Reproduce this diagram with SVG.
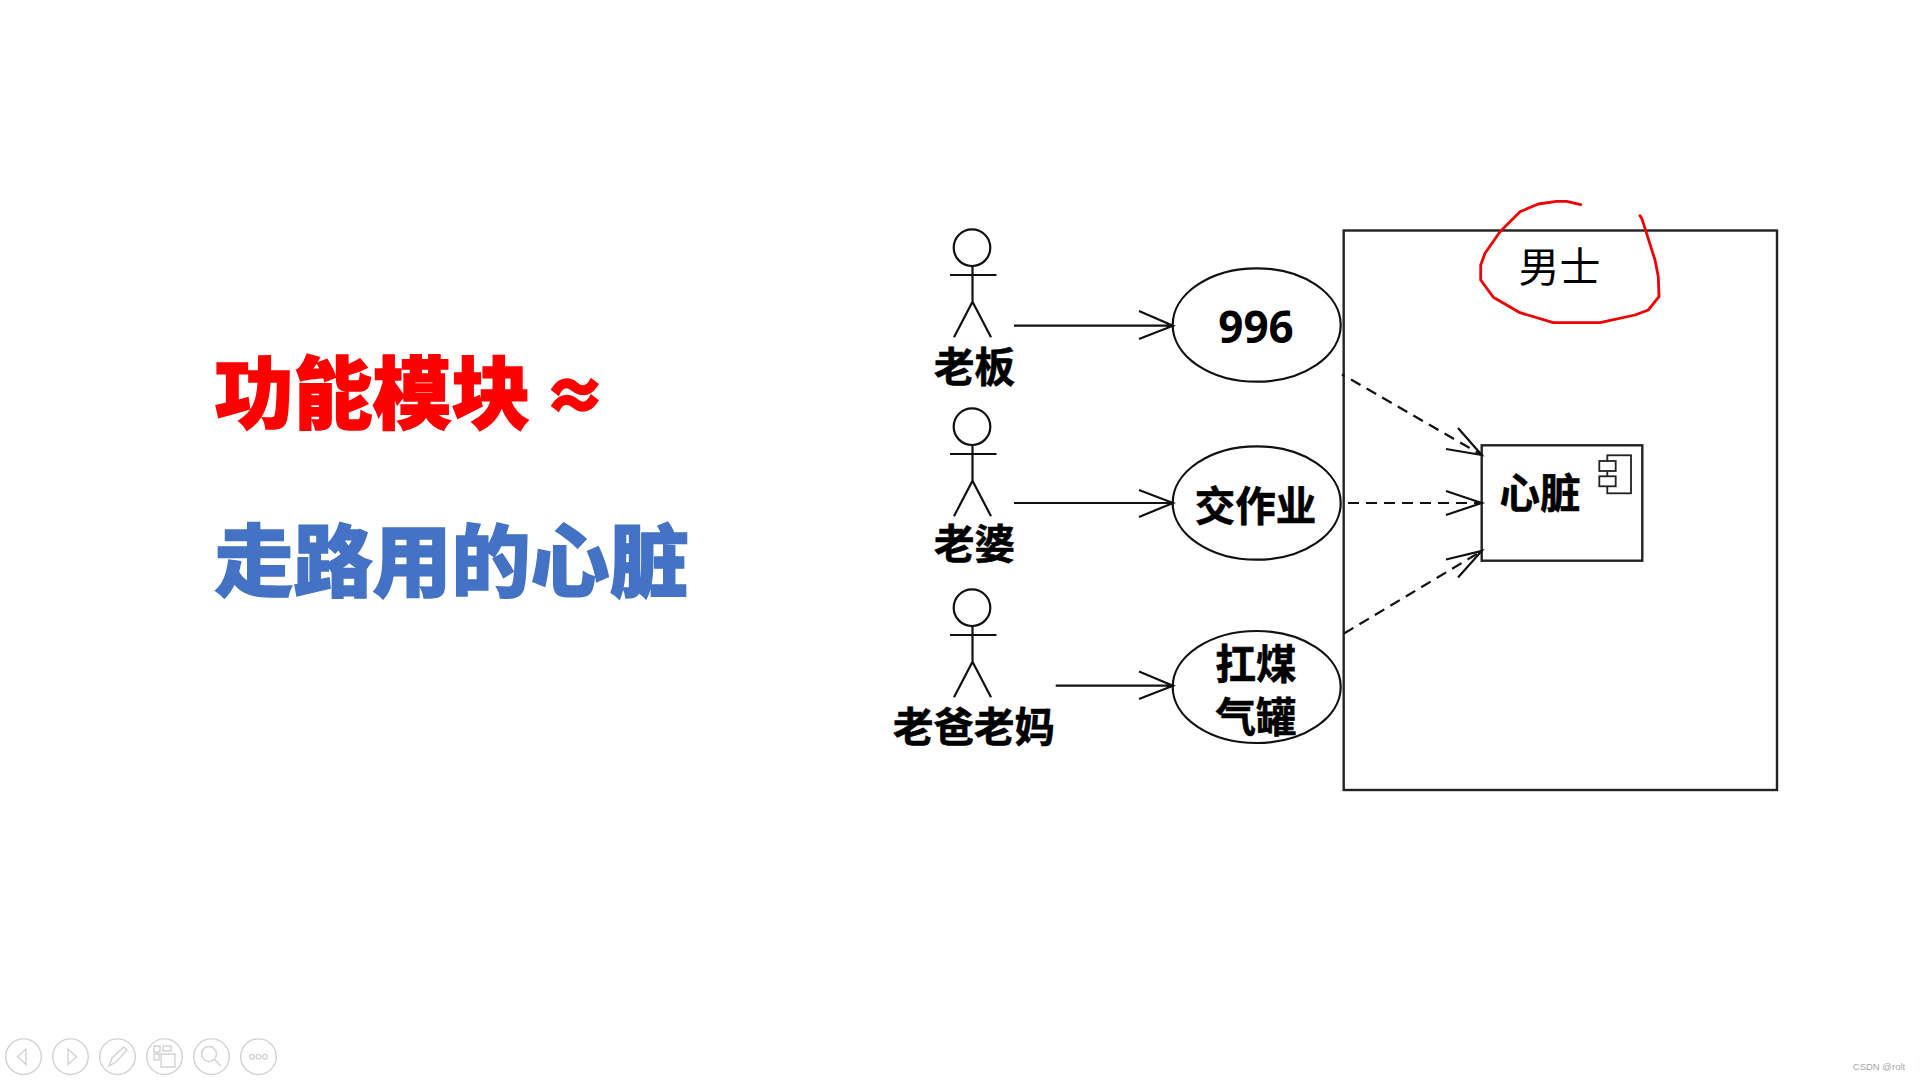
<svg xmlns="http://www.w3.org/2000/svg" width="1920" height="1080" viewBox="0 0 1920 1080">
<style>
text{font-family:"Noto Sans CJK SC","Noto Sans",sans-serif;text-anchor:middle;fill:#000}
.lab{font-size:40.5px;font-weight:700;stroke:#000;stroke-width:.6px}
.big{font-size:79px;font-weight:900;text-anchor:start;stroke-width:1.5px}
.s{fill:none;stroke:#111;stroke-width:2.2}
.box{fill:#fff;stroke:#222;stroke-width:2.4}
.uc{fill:#fff;stroke:#111;stroke-width:2.2}
.dash{fill:none;stroke:#111;stroke-width:2.2;stroke-dasharray:11 7}
.tb{fill:none;stroke:#d2d2d2;stroke-width:1.4}
</style>
<defs>
<g id="stick">
<circle cx="972" cy="0" r="18.3" class="s"/>
<path class="s" d="M972.5 18.5V54M950 27.3H996.5M972.5 54L954 89.5M972.5 54L991 89.5"/>
</g>
</defs>
<rect width="1920" height="1080" fill="#fff"/>
<g id="title">
<text class="big" x="214.5" y="423" style="fill:#ff0000;stroke:#ff0000">功能模块</text>
<text x="575" y="419" style="font-size:62px;font-weight:900;fill:#ff0000;stroke:#ff0000;stroke-width:2.5px">≈</text>
<text class="big" x="214.5" y="591" style="fill:#4472c4;stroke:#4472c4">走路用的心脏</text>
</g>
<g id="system"><rect class="box" x="1343.7" y="230.5" width="433.3" height="559.5"/></g>
<g id="system-label"><text x="1559.5" y="282" style="font-size:41px">男士</text></g>
<g id="actor-boss"><use href="#stick" y="247.7"/><text class="lab" x="974.5" y="382">老板</text></g>
<g id="actor-wife"><use href="#stick" y="426.7"/><text class="lab" x="974.5" y="559">老婆</text></g>
<g id="actor-parents"><use href="#stick" y="607.7"/><text class="lab" x="974" y="742">老爸老妈</text></g>
<g id="uc-996"><ellipse class="uc" cx="1256.7" cy="325" rx="84" ry="56.7"/><text x="1256" y="343" style="font-size:44px;font-weight:700;font-family:'Open Sans','Noto Sans',sans-serif">996</text></g>
<g id="uc-homework"><ellipse class="uc" cx="1256.7" cy="503" rx="84" ry="56.7"/><text class="lab" x="1255.5" y="521">交作业</text></g>
<g id="uc-gas"><ellipse class="uc" cx="1256.7" cy="687" rx="84" ry="56"/><text class="lab"><tspan x="1256" y="679">扛煤</tspan><tspan x="1256" y="732">气罐</tspan></text></g>
<g id="component"><rect class="box" x="1481.7" y="445.3" width="160.6" height="115.4"/>
<rect x="1607.3" y="455.3" width="23.7" height="38" fill="#fff" stroke="#222" stroke-width="1.8"/>
<rect x="1599.3" y="461" width="16.4" height="10" fill="#fff" stroke="#222" stroke-width="1.8"/>
<rect x="1599.3" y="476.3" width="16.4" height="10" fill="#fff" stroke="#222" stroke-width="1.8"/>
<text class="lab" x="1540" y="508">心脏</text></g>
<g id="connectors">
<path class="s" d="M1014 325.7H1173M1139 311L1173 325.7L1139 339"/>
<path class="s" d="M1014 503H1173M1139 490L1173 503L1139 517"/>
<path class="s" d="M1055.7 685.7H1173M1139 671.5L1173 685.7L1139 699"/>
<path class="s" d="M1342 374.5L1344.5 376"/>
<path class="dash" d="M1351 379.5L1481 454.5"/>
<path class="s" d="M1458 428L1481.7 455L1446 449"/>
<path class="dash" d="M1348 503H1481"/>
<path class="s" d="M1446 491L1481.7 503L1446 515"/>
<path class="dash" d="M1344 633.5L1481 551.5"/>
<path class="s" d="M1446 559.5L1481.7 551L1458 577.5"/>
</g>
<path id="red-circle" fill="none" stroke="#f00000" stroke-width="2.8" stroke-linecap="round" stroke-linejoin="round" d="M1580.7 204.7L1566.7 201.3L1556.7 201.3L1538.3 204L1520 211.7L1500 231.7L1485 253.3L1480.7 265L1480.7 280L1493.3 297.3L1520 312.7L1553.3 322.7L1600 322.7L1635 315L1648.3 310L1659 296.7L1658.3 276.7L1655 260L1645 228.3L1641.7 218.3L1640 215.7"/>
<g id="toolbar">
<circle class="tb" cx="23.5" cy="1056.7" r="17.8"/><path class="tb" d="M26 1049L17.5 1056.7L26 1064.5Z"/>
<circle class="tb" cx="70.5" cy="1056.7" r="17.8"/><path class="tb" d="M68 1049L76.5 1056.7L68 1064.5Z"/>
<circle class="tb" cx="117.5" cy="1056.7" r="17.8"/><path class="tb" d="M109 1066L112 1058L124 1047L127 1050L116 1062Z"/>
<circle class="tb" cx="164.5" cy="1056.7" r="17.8"/><path class="tb" d="M154 1046H160V1052H154ZM154 1054H159V1060H154ZM163 1046H171V1051H163ZM161 1054H175V1067H161Z"/>
<circle class="tb" cx="211.5" cy="1056.7" r="17.8"/><circle class="tb" cx="209" cy="1054" r="7.5"/><path class="tb" d="M214.5 1059.5L221 1066" stroke-width="2.5"/>
<circle class="tb" cx="258.5" cy="1056.7" r="17.8"/><circle class="tb" cx="252" cy="1056.7" r="2.3"/><circle class="tb" cx="258.5" cy="1056.7" r="2.3"/><circle class="tb" cx="265" cy="1056.7" r="2.3"/>
</g>
<text x="1879" y="1070" style="font-family:'Liberation Sans',sans-serif;font-size:9.5px;fill:#a8a8a8">CSDN @rolt</text>
</svg>
